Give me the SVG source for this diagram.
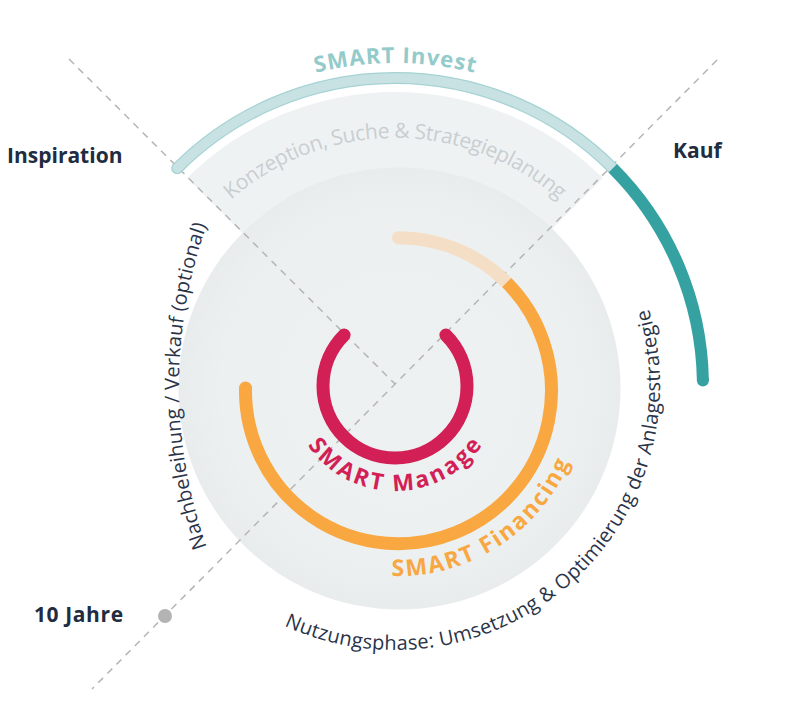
<svg xmlns="http://www.w3.org/2000/svg" width="800" height="721" viewBox="0 0 800 721">
<defs>
  <radialGradient id="gc" cx="50%" cy="50%" r="50%">
    <stop offset="0" stop-color="#eef1f2"/>
    <stop offset="0.8" stop-color="#ecf0f1"/>
    <stop offset="1" stop-color="#e8eced"/>
  </radialGradient>
  <path id="p-invest" d="M 306 75.5 A 323 323 0 0 1 484 75.5"/>
  <path id="p-konz" d="M 219.6 210.6 A 248 248 0 0 1 570.4 210.6"/>
  <path id="p-left" d="M 212 561 A 480 480 0 0 1 212 211"/>
  <path id="p-nutz" d="M 274.7 621.1 A 265 265 0 0 0 645.6 298.7"/>
  <path id="p-fin" d="M 391.5 575.9 A 186 186 0 0 0 570.5 459.7"/>
  <path id="p-man" d="M 303.2 438 A 106 106 0 0 0 486.8 438"/>
</defs>
<style>
  .lbl{font-family:"Open Sans","Noto Sans","Liberation Sans",sans-serif;font-weight:700;font-size:21px;fill:#222c40}
  .phase{font-family:"Open Sans","Noto Sans","Liberation Sans",sans-serif;font-weight:400;font-size:20px;fill:#2a3448}
  .smart{font-family:"Open Sans","Noto Sans","Liberation Sans",sans-serif;font-weight:700}
  .dash{stroke:#b5b5b5;stroke-width:1.5;stroke-dasharray:7 6;fill:none}
  .arc{fill:none}
</style>
<rect width="800" height="721" fill="#ffffff"/>

<g id="background">
  <path d="M 395 386 L 187.1 178.1 A 294 294 0 0 1 602.9 178.1 Z" fill="#eff2f3"/>
  <circle cx="399.5" cy="388.5" r="221" fill="url(#gc)"/>
</g>

<g id="connectors">
  <line class="dash" x1="69" y1="59" x2="395" y2="384"/>
  <line class="dash" x1="717" y1="60" x2="92" y2="689"/>
</g>

<g id="smart-invest">
  <path class="arc" d="M 177.2 168.2 A 308 308 0 0 1 612.8 168.2" stroke="#a5d2d3" stroke-width="12" stroke-linecap="round"/>
  <path class="arc" d="M 177.2 168.2 A 308 308 0 0 1 612.8 168.2" stroke="#c8e2e3" stroke-width="9.5" stroke-linecap="round"/>
  <path class="arc" d="M 612.8 168.2 A 308 308 0 0 1 702.9 380.6" stroke="#36a1a1" stroke-width="12"/>
  <circle cx="702.9" cy="380.6" r="6" fill="#36a1a1"/>
  <text class="smart" font-size="22" fill="#93cbcb" text-anchor="middle" textLength="160" lengthAdjust="spacing"><textPath href="#p-invest" startOffset="50%">SMART Invest</textPath></text>
  <text class="phase" text-anchor="middle" textLength="358" lengthAdjust="spacing" style="fill:#c9ced1;font-size:21px"><textPath href="#p-konz" startOffset="50%">Konzeption, Suche &amp; Strategieplanung</textPath></text>
</g>

<g id="smart-financing">
  <path class="arc" d="M 506.7 282.5 A 153 153 0 0 0 398.5 237.7" stroke="#f5dec6" stroke-width="13" stroke-linecap="round"/>
  <path class="arc" d="M 245.5 388 A 153 153 0 1 0 506.7 282.5" stroke="#f9a740" stroke-width="13"/>
  <circle cx="245.5" cy="388" r="6.5" fill="#f9a740"/>
  <text class="smart" font-size="23" fill="#f9a740" textLength="224" lengthAdjust="spacing"><textPath href="#p-fin">SMART Financing</textPath></text>
</g>

<g id="smart-manage">
  <path class="arc" d="M 344.1 335.1 A 72 72 0 1 0 445.9 335.1" stroke="#d21f56" stroke-width="13" stroke-linecap="round"/>
  <text class="smart" font-size="23" fill="#d21f56" text-anchor="middle" textLength="205" lengthAdjust="spacing"><textPath href="#p-man" startOffset="50%">SMART Manage</textPath></text>
</g>

<g id="phase-left">
  <text class="phase" text-anchor="middle" textLength="328" lengthAdjust="spacing"><textPath href="#p-left" startOffset="50%">Nachbeleihung / Verkauf (optional)</textPath></text>
</g>

<g id="phase-bottom">
  <text class="phase" text-anchor="middle" textLength="608" lengthAdjust="spacing"><textPath href="#p-nutz" startOffset="50%">Nutzungsphase: Umsetzung &amp; Optimierung der Anlagestrategie</textPath></text>
</g>

<g id="label-inspiration"><text class="lbl" x="7" y="163">Inspiration</text></g>
<g id="label-kauf"><text class="lbl" x="673" y="158">Kauf</text></g>
<g id="label-10jahre">
  <text class="lbl" x="34" y="622" letter-spacing="0.6">10 Jahre</text>
  <circle cx="165" cy="616" r="7" fill="#b3b3b3"/>
</g>
</svg>
